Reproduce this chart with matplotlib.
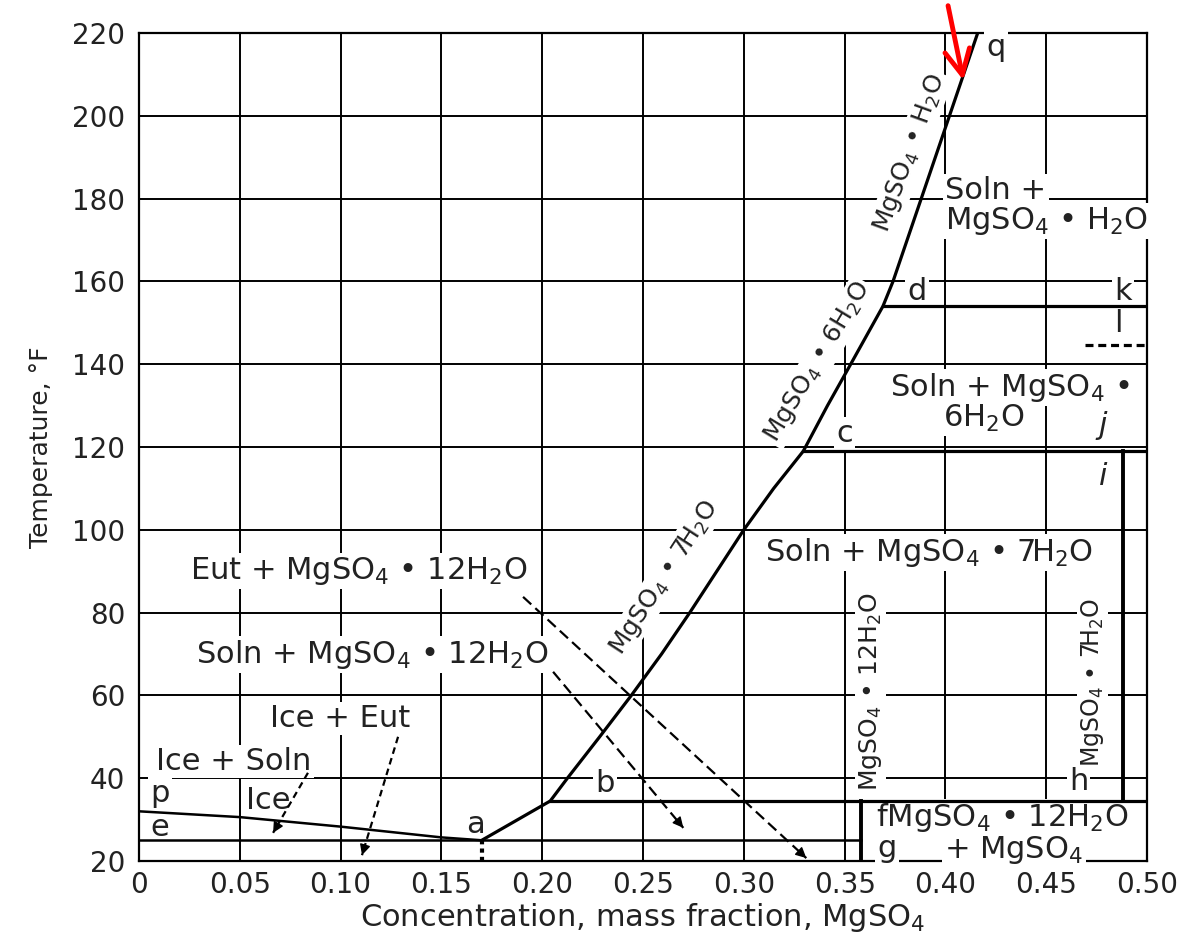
import numpy as np
import matplotlib
matplotlib.use('Agg')
import matplotlib.pyplot as plt

plt.rcParams['font.family'] = ['DejaVu Sans']
plt.rcParams['mathtext.fontset'] = 'dejavusans'

# ---- data ----
# ice liquidus p -> a
ice_x = [0.0, 0.05, 0.10, 0.15, 0.170]
ice_t = [32.0, 30.6, 28.3, 25.7, 25.0]
# solubility curve a -> b -> c -> d -> q
sol_x = [0.170, 0.204, 0.2125, 0.2285, 0.2442, 0.2592, 0.2732, 0.2866, 0.300,
         0.3148, 0.3295, 0.3415, 0.353, 0.369, 0.374, 0.388, 0.402, 0.416]
sol_t = [25.0, 34.5, 40.0, 50.0, 60.0, 70.0, 80.0, 90.0, 100.0,
         110.0, 119.0, 130.0, 140.0, 154.0, 160.0, 180.0, 200.0, 220.0]

t_eut = 25.0       # e-g line
t_b = 34.5         # b line
t_c = 119.0        # c line
t_d = 154.0        # d line
t_l = 144.6        # dashed l line
x_a = 0.170
x_b = 0.204
x_c = 0.3295
x_d = 0.369
x_l = 0.469
x_12 = 0.358       # MgSO4.12H2O
x_7 = 0.488        # MgSO4.7H2O

# dashed pointer arrows (start -> tip)
arr_x0 = [0.0838, 0.1285, 0.2054, 0.1905]
arr_t0 = [41.3, 50.0, 65.7, 83.8]
arr_x1 = [0.0665, 0.1106, 0.270, 0.331]
arr_t1 = [26.8, 21.4, 28.0, 20.7]
arr_dash = [(3, 2), (3, 2), (5, 2.5), (5, 2.5)]

xticks = [0, 0.05, 0.10, 0.15, 0.20, 0.25, 0.30, 0.35, 0.40, 0.45, 0.50]
xticklabels = ['0', '0.05', '0.10', '0.15', '0.20', '0.25', '0.30', '0.35', '0.40', '0.45', '0.50']
yticks = list(range(20, 221, 20))

fig = plt.figure(figsize=(11.83, 9.38), dpi=100)
ax = fig.add_axes([0.1175, 0.0821, 0.8521, 0.8827])
ax.set_xlim(0, 0.5)
ax.set_ylim(20, 220)
ax.set_xticks(xticks)
ax.set_xticklabels(xticklabels)
ax.set_yticks(yticks)
ax.tick_params(length=0, labelsize=20, colors='#222222')
ax.tick_params(axis='y', pad=10)
ax.tick_params(axis='x', pad=7)
ax.set_axisbelow(True)
ax.grid(True, color='black', lw=1.4)
for s in ax.spines.values():
    s.set_linewidth(1.6)

ax.set_xlabel('Concentration, mass fraction, MgSO$_4$', fontsize=22, color='#222222', labelpad=2)
ax.set_ylabel('Temperature, °F', fontsize=18, color='#222222', labelpad=14)

lw_thick = 2.3
# phase lines
ax.plot(ice_x, ice_t, color='k', lw=1.8, zorder=4)
ax.plot(sol_x, sol_t, color='k', lw=lw_thick, zorder=4)
ax.plot([0, x_12], [t_eut, t_eut], color='k', lw=1.8, zorder=4)
ax.plot([x_b, 0.5], [t_b, t_b], color='k', lw=lw_thick, zorder=4)
ax.plot([x_12, x_12], [20, t_b], color='k', lw=lw_thick + 0.5, zorder=4)
ax.plot([x_c, 0.5], [t_c, t_c], color='k', lw=lw_thick, zorder=4)
ax.plot([x_7, x_7], [t_b, t_c], color='k', lw=lw_thick + 0.5, zorder=4)
ax.plot([x_d, 0.5], [t_d, t_d], color='k', lw=lw_thick, zorder=4)
ax.plot([x_l, 0.5], [t_l, t_l], color='k', lw=lw_thick, ls=(0, (2.5, 1.5)), zorder=4)
ax.plot([x_a, x_a], [20, t_eut], color='k', lw=3, ls=(0, (1, 1)), zorder=4)

# dashed pointers
for x0, t0, x1, t1, dsh in zip(arr_x0, arr_t0, arr_x1, arr_t1, arr_dash):
    ax.plot([x0, x1], [t0, t1], color='k', lw=1.6, ls=(0, dsh), zorder=4)
    ax.annotate('', xy=(x1, t1), xytext=(x1 - 0.03 * (x1 - x0), t1 - 0.03 * (t1 - t0)),
                arrowprops=dict(arrowstyle='-|>', color='k', lw=1, mutation_scale=16,
                                shrinkA=0, shrinkB=0), zorder=5)

box = dict(facecolor='white', edgecolor='none', pad=1.5)
tc = '#222222'

def lab(x, y, s, size=22, ha='center', va='center', rot=0, style='normal'):
    ax.text(x, y, s, fontsize=size, ha=ha, va=va, rotation=rot, color=tc,
            bbox=box, style=style, zorder=3, rotation_mode='anchor')

lab(0.109, 90.0, 'Eut + MgSO$_4$ • 12H$_2$O')
lab(0.1155, 69.8, 'Soln + MgSO$_4$ • 12H$_2$O')
lab(0.0997, 54.5, 'Ice + Eut')
lab(0.047, 44.0, 'Ice + Soln')
lab(0.064, 34.7, 'Ice')
lab(0.0104, 36.3, 'p')
lab(0.0104, 28.2, 'e')
lab(0.167, 28.7, 'a')
lab(0.231, 38.6, 'b')
lab(0.350, 123.3, 'c')
lab(0.386, 157.6, 'd')
lab(0.488, 157.6, 'k')
lab(0.486, 149.8, 'l')
lab(0.478, 125.3, 'j', style='italic')
lab(0.478, 112.8, 'i', style='italic')
lab(0.466, 39.2, 'h')
lab(0.425, 216.6, 'q')
lab(0.3658, 30.4, 'fMgSO$_4$ • 12H$_2$O', ha='left')
lab(0.3662, 23.0, 'g', ha='left')
lab(0.3995, 22.6, '+ MgSO$_4$', ha='left')
lab(0.392, 94.6, 'Soln + MgSO$_4$ • 7H$_2$O')
lab(0.432, 134.3, 'Soln + MgSO$_4$ •')
lab(0.419, 127.0, '6H$_2$O')
lab(0.400, 182.0, 'Soln +', ha='left')
lab(0.400, 174.6, 'MgSO$_4$ • H$_2$O', ha='left')

lab(0.2605, 88.5, 'MgSO$_4$ • 7H$_2$O', size=18, rot=57)
lab(0.3365, 140.5, 'MgSO$_4$ • 6H$_2$O', size=18, rot=59)
lab(0.3825, 191.0, 'MgSO$_4$ • H$_2$O', size=18, rot=70)
lab(0.3626, 60.8, 'MgSO$_4$ • 12H$_2$O', size=18, rot=90)
lab(0.4728, 63.2, 'MgSO$_4$ • 7H$_2$O', size=17, rot=90)

# red pointer above the plot
ax.annotate('', xy=(0.4089, 208.6), xytext=(0.4013, 226.6),
            arrowprops=dict(arrowstyle='->', color='red', lw=3.5, mutation_scale=45,
                            shrinkA=0, shrinkB=0),
            annotation_clip=False, zorder=6)

fig.savefig('out.png', dpi=100)
